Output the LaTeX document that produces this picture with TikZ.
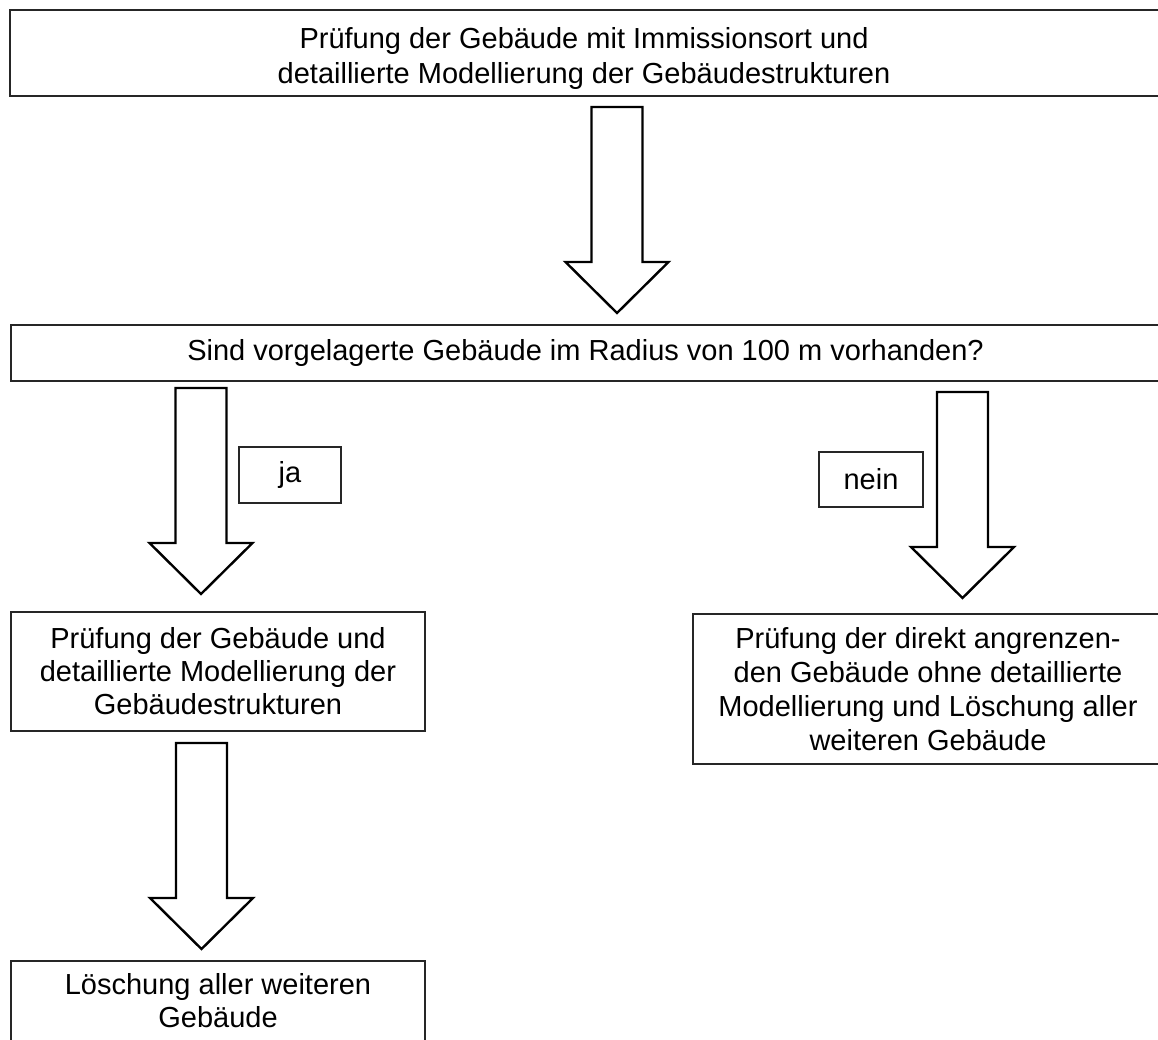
\documentclass[tikz,border=0pt]{standalone}
\usepackage{fontspec}
\setmainfont{Liberation Sans}
\tikzset{
  box/.style={draw=black!85, line width=1.2pt, rectangle, inner sep=0pt, align=center,
    font=\fontsize{29pt}{33pt}\selectfont},
  plaintext/.style={inner sep=0pt, align=center, font=\fontsize{29pt}{35pt}\selectfont},
  arrowline/.style={draw=black, line width=2.4pt, fill=white, line join=miter},
  blockarrow/.pic={\path[arrowline] (-25.5,0) -- (25.5,0) -- (25.5,155) -- (51.5,155)
      -- (0,206) -- (-51.5,155) -- (-25.5,155) -- cycle;}
}
\begin{document}
\begin{tikzpicture}[x=1pt,y=-1pt]
\useasboundingbox (0,0) rectangle (1158,1039);
\clip (0,0) rectangle (1158,1039);
\fill[white] (0,0) rectangle (1158,1039);
% boxes
\node[box, minimum width=1150pt, minimum height=86pt] (top) at (585,53) {};
\node[plaintext] (toptext) at (584,58)
  {Prüfung der Gebäude mit Immissionsort und\\detaillierte Modellierung der Gebäudestrukturen};
\node[box, minimum width=1149pt, minimum height=56pt] (q) at (585.5,353)
  {Sind vorgelagerte Gebäude im Radius von 100 m vorhanden?};
\node[box, minimum width=102pt, minimum height=56pt] (ja) at (290,475) {ja};
\node[box, minimum width=104pt, minimum height=55pt] (nein) at (871,479.5) {nein};
\node[box, minimum width=414pt, minimum height=119pt] (left) at (218,671.5)
  {Prüfung der Gebäude und\\detaillierte Modellierung der\\Gebäudestrukturen};
\node[box, minimum width=470pt, minimum height=150pt,
  font=\fontsize{29pt}{34pt}\selectfont] (right) at (928,689)
  {Prüfung der direkt angrenzen-\\den Gebäude ohne detaillierte\\Modellierung und Löschung aller\\weiteren Gebäude};
\node[box, minimum width=414pt, minimum height=80pt] (bottom) at (218,1001)
  {Löschung aller weiteren\\Gebäude};
% block arrows (connectors)
\coordinate (a1) at (617,107);
\coordinate (a2) at (201,388);
\coordinate (a3) at (962.5,392);
\coordinate (a4) at (201.5,743);
\pic at (a1) {blockarrow};
\pic at (a2) {blockarrow};
\pic at (a3) {blockarrow};
\pic at (a4) {blockarrow};
\end{tikzpicture}
\end{document}
